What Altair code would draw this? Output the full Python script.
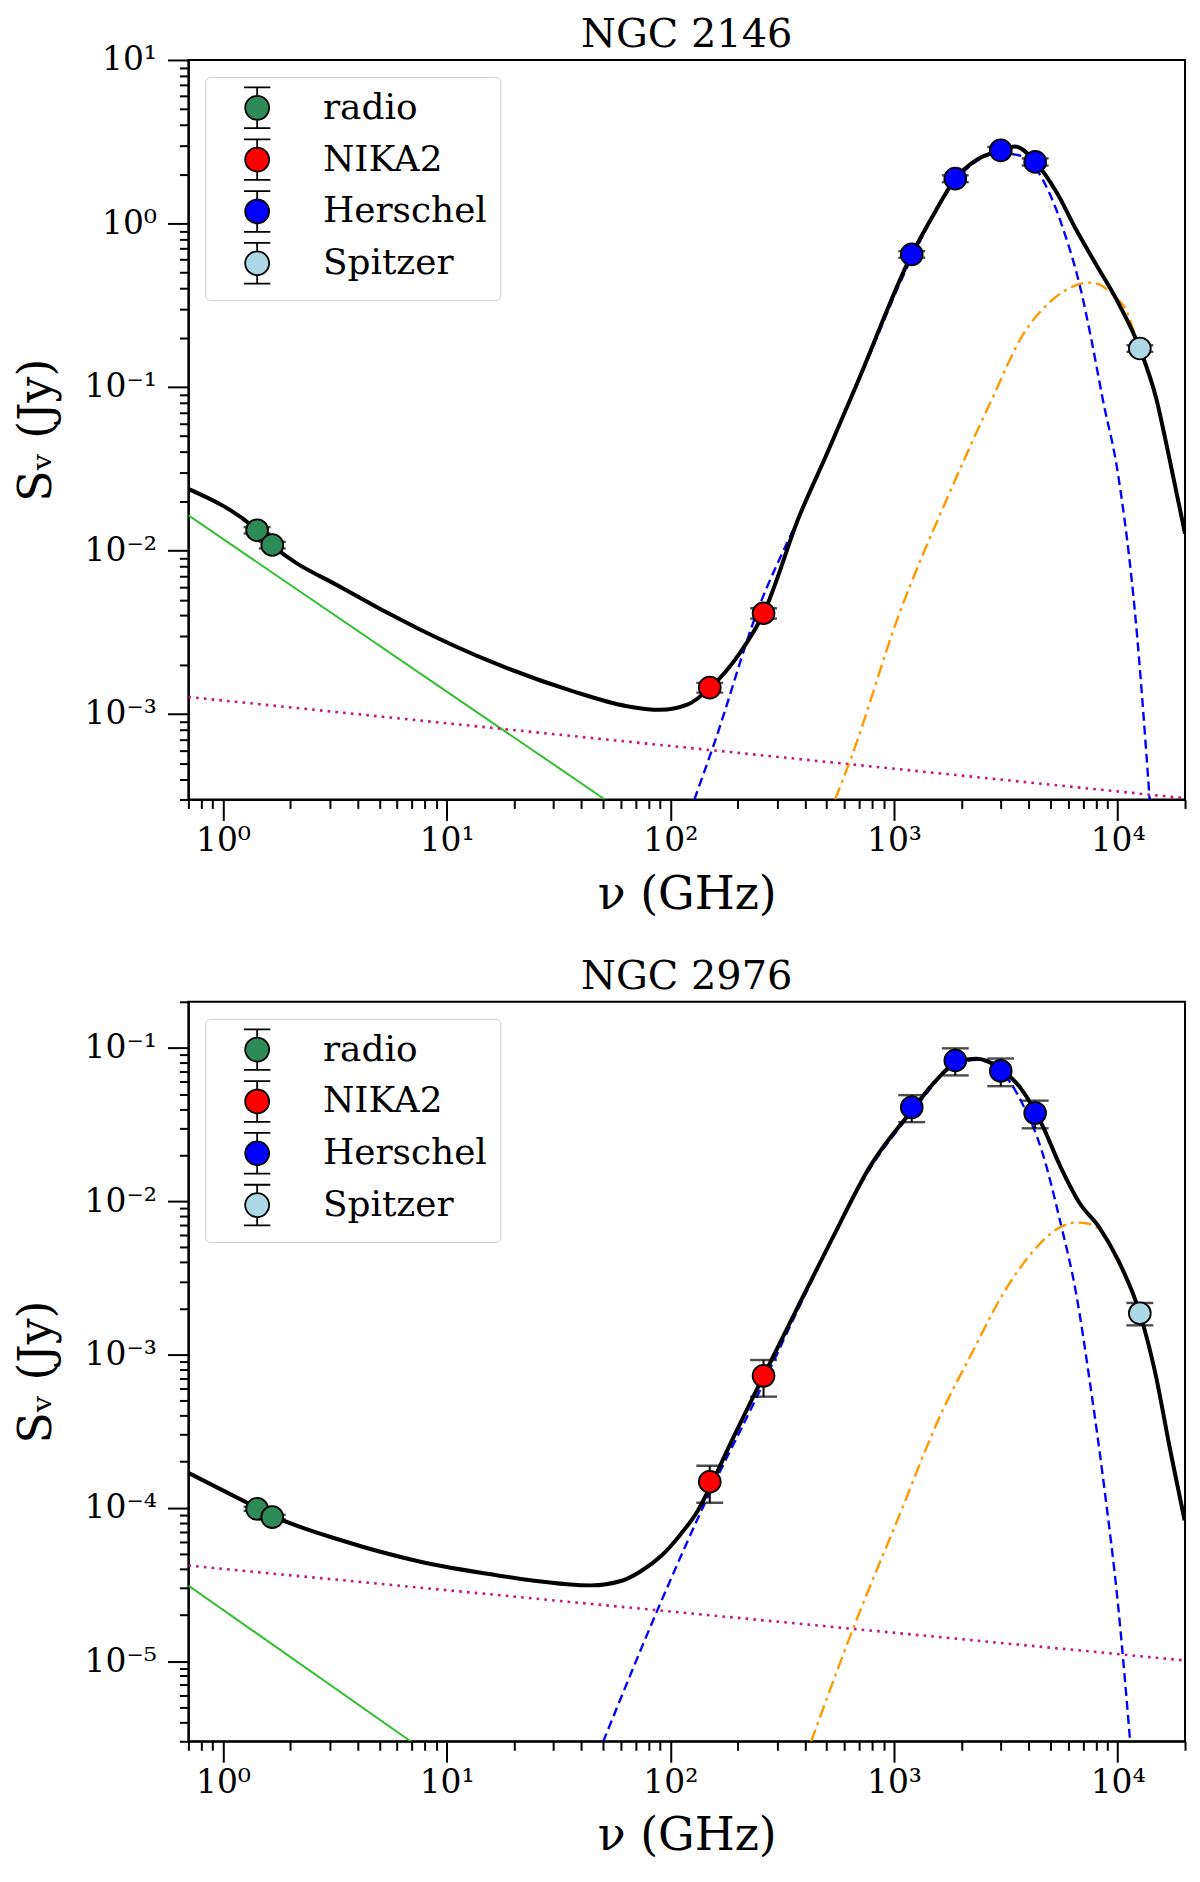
import altair as alt
import pandas as pd

FONT = "DejaVu Serif"

instruments = ["radio", "NIKA2", "Herschel", "Spitzer"]
inst_colors = ["#2e8b57", "#ff0000", "#0000ff", "#add8e6"]

# observed frequencies (GHz)
nu_radio = [1.42, 1.66]
nu_nika = [150, 261]
nu_herschel = [1200, 1879, 3000, 4276]
nu_spitzer = [12560]

# NGC 2146 photometry (Jy)
n2146_radio = [0.0133, 0.0108]
n2146_radio_err = [0.0006, 0.0005]
n2146_nika = [0.00145, 0.00413]
n2146_nika_err = [0.0001, 0.0003]
n2146_herschel = [0.647, 1.88, 2.80, 2.38]
n2146_herschel_err = [0.03, 0.09, 0.14, 0.12]
n2146_spitzer = [0.172]
n2146_spitzer_err = [0.008]

# NGC 2146 model components
n2146_total_nu = [0.70, 1.42, 1.66, 3.43, 7.55, 16.6, 36.5, 63.1, 90.2, 119, 151, 204, 261,
                  377, 504, 697, 1200, 1517, 1879, 2339, 3000, 3467, 4276, 5346, 6516,
                  7925, 10046, 12560, 14890, 16634, 20000]
n2146_total_s = [0.0238, 0.0133, 0.0108, 0.00587, 0.00330, 0.00203, 0.00138, 0.00112,
                 0.00106, 0.00114, 0.00145, 0.00235, 0.00413, 0.0162, 0.0397, 0.112, 0.647,
                 1.16, 1.88, 2.45, 2.80, 2.96, 2.38, 1.54, 0.918, 0.575, 0.328, 0.172,
                 0.0845, 0.0426, 0.0127]
n2146_cold_nu = [128, 158, 244, 377, 697, 1200, 1879, 3000, 3750, 4943, 5781, 6776, 7621,
                 8570, 10046, 12023, 13900]
n2146_cold_s = [3.0e-4, 6.76e-4, 4.20e-3, 0.0162, 0.110, 0.617, 1.82, 2.69, 2.58, 1.54,
                0.877, 0.415, 0.196, 0.0845, 0.0290, 3.81e-3, 3.0e-4]
n2146_warm_nu = [545, 647, 1035, 1778, 2742, 3750, 5140, 6516, 7328, 7925, 9638, 10864,
                 12560, 14890, 16634, 20000]
n2146_warm_s = [3.0e-4, 5.51e-4, 3.81e-3, 0.0228, 0.0845, 0.206, 0.344, 0.419, 0.435,
                0.431, 0.361, 0.299, 0.166, 0.0832, 0.0417, 0.0126]
n2146_sync_nu = [0.70, 51]
n2146_sync_s = [0.0164, 3.0e-4]
n2146_ff_nu = [0.70, 20000]
n2146_ff_s = [1.27e-3, 3.05e-4]

# NGC 2976 photometry (Jy)
n2976_radio = [9.85e-5, 8.7e-5]
n2976_radio_err = [3e-6, 3e-6]
n2976_nika = [1.48e-4, 7.26e-4]
n2976_nika_err = [4.0e-5, 1.95e-4]
n2976_herschel = [0.041, 0.0828, 0.0708, 0.0376]
n2976_herschel_err = [0.0082, 0.0166, 0.0145, 0.0077]
n2976_spitzer = [1.86e-3]
n2976_spitzer_err = [3.1e-4]

# NGC 2976 model components
n2976_total_nu = [0.70, 1.42, 1.66, 3.43, 7.55, 16.6, 23.8, 44.2, 60.1, 73.8, 90.6, 111,
                  132, 151, 180, 261, 391, 525, 778, 1202, 1517, 1879, 2339, 3000,
                  3750, 4571, 5559, 6776, 8241, 10046, 12560, 14622, 17219, 19907]
n2976_total_s = [1.69e-4, 1.0e-4, 8.9e-5, 6.10e-5, 4.47e-5, 3.64e-5, 3.37e-5, 3.12e-5,
                 3.33e-5, 3.86e-5, 4.83e-5, 6.71e-5, 9.46e-5, 1.38e-4, 2.39e-4,
                 7.26e-4, 2.38e-3, 5.57e-3, 0.0167, 0.0391, 0.0598, 0.0796, 0.0849,
                 0.0731, 0.0527, 0.0320, 0.0167, 9.66e-3, 6.81e-3, 4.13e-3, 1.86e-3,
                 7.94e-4, 2.33e-4, 8.30e-5]
n2976_cold_nu = [50.0, 90.4, 145, 244, 391, 778, 1202, 1879, 2339, 3000, 3750, 4571, 5559,
                 6516, 7516, 8690, 10046, 11376]
n2976_cold_s = [2.97e-6, 2.40e-5, 1.13e-4, 5.32e-4, 2.29e-3, 0.0162, 0.0380, 0.0776,
                0.0836, 0.0708, 0.0432, 0.0215, 7.16e-3, 2.51e-3, 6.55e-4, 1.39e-4,
                2.29e-5, 2.97e-6]
n2976_warm_nu = [425, 671, 1035, 1652, 2208, 3083, 4227, 5559, 6516, 7328, 8570, 10046,
                 12560, 14622, 17219, 20000]
n2976_warm_s = [2.97e-6, 1.77e-5, 8.30e-5, 4.34e-4, 9.95e-4, 2.51e-3, 4.80e-3, 6.81e-3,
                7.26e-3, 7.16e-3, 6.17e-3, 3.98e-3, 1.82e-3, 7.76e-4, 2.29e-4, 8.13e-5]
n2976_sync_nu = [0.70, 6.97]
n2976_sync_s = [3.11e-5, 2.97e-6]
n2976_ff_nu = [0.70, 20000]
n2976_ff_s = [4.2e-5, 1.01e-5]

# legend handle: circle with error bar and caps
ERRBAR_SYMBOL = ("M-1,0A1,1 0 1,1 1,0A1,1 0 1,1 -1,0Z"
                 "M0,-1L0,-1.7M-1.1,-1.7L1.1,-1.7M0,1L0,1.7M-1.1,1.7L1.1,1.7")

SUP = ("'10' + replace(replace(replace(replace(replace(replace(replace("
       "toString(round(log(datum.value)/LN10)),'-','⁻'),'0','⁰'),'1','¹'),"
       "'2','²'),'3','³'),'4','⁴'),'5','⁵')")
IS_MAJOR = "abs(log(datum.value)/LN10 - round(log(datum.value)/LN10)) < 1e-6"


def log_ticks(lo, hi):
    vals = []
    for e in range(-7, 6):
        for m in range(1, 10):
            v = m * 10.0 ** e
            if lo * 0.999 <= v <= hi * 1.001:
                vals.append(v)
    return vals


def points_table(s_lists, err_lists):
    rows = []
    for inst, nus, ss, es in zip(instruments,
                                 [nu_radio, nu_nika, nu_herschel, nu_spitzer],
                                 s_lists, err_lists):
        for n, s, e in zip(nus, ss, es):
            rows.append({"nu": n, "S": s, "lo": s - e, "hi": s + e, "inst": inst})
    return pd.DataFrame(rows)


def sed_panel(title, pts, total, cold, warm, sync, ff, ydom):
    xscale = alt.Scale(type="log", domain=[0.7, 20000], nice=False)
    yscale = alt.Scale(type="log", domain=ydom, nice=False)
    tick_size = {"condition": {"test": IS_MAJOR, "value": 21}, "value": 9}
    xaxis = alt.Axis(values=log_ticks(0.7, 20000), labelExpr=f"{IS_MAJOR} ? {SUP} : ''",
                     tickSize=tick_size, labelOverlap=False, labelFlush=False,
                     labelPadding=4, titlePadding=15)
    yaxis = alt.Axis(values=log_ticks(*ydom), labelExpr=f"{IS_MAJOR} ? {SUP} : ''",
                     tickSize=tick_size, labelOverlap=False, labelFlush=False,
                     labelPadding=11, titlePadding=24)
    x = alt.X("nu:Q", scale=xscale, axis=xaxis, title="ν (GHz)")

    def y(field):
        return alt.Y(f"{field}:Q", scale=yscale, axis=yaxis, title="Sᵥ (Jy)")

    def curve(nus, ss, **style):
        df = pd.DataFrame({"nu": nus, "S": ss})
        return alt.Chart(df).mark_line(clip=True, **style).encode(x=x, y=y("S"))

    layers = [
        curve(*sync, color="#2ec02e", strokeWidth=2),
        curve(*ff, color="#cc1177", strokeWidth=2.6, strokeDash=[2.6, 5.2]),
        curve(*cold, color="#0000ff", strokeWidth=2.4, strokeDash=[9, 5], interpolate="monotone"),
        curve(*warm, color="#ff9900", strokeWidth=2.4, strokeDash=[13, 5, 3, 5], interpolate="monotone"),
        curve(*total, color="black", strokeWidth=4, interpolate="monotone"),
        alt.Chart(pts).mark_rule(color="black", strokeWidth=2).encode(x=x, y=y("lo"), y2="hi:Q"),
        alt.Chart(pts).mark_tick(orient="horizontal", size=27, thickness=2.4, color="black")
        .encode(x=x, y=y("lo")),
        alt.Chart(pts).mark_tick(orient="horizontal", size=27, thickness=2.4, color="black")
        .encode(x=x, y=y("hi")),
        alt.Chart(pts).mark_point(shape="circle", filled=True, size=480, stroke="black",
                                  strokeWidth=1.8, opacity=1)
        .encode(
            x=x,
            y=y("S"),
            fill=alt.Fill("inst:N", scale=alt.Scale(domain=instruments, range=inst_colors),
                          legend=alt.Legend(
                              title=None, orient="top-left", offset=17, padding=13,
                              strokeColor="#cccccc", cornerRadius=5, fillColor="white",
                              labelFont=FONT, labelFontSize=36, labelColor="black",
                              rowPadding=4, symbolSize=576, symbolType=ERRBAR_SYMBOL,
                              symbolStrokeColor="black", symbolStrokeWidth=1.8,
                              symbolOffset=21, labelOffset=48, labelLimit=0)),
        ),
    ]
    return alt.layer(*layers).properties(width=1000, height=742, title=title)


top = sed_panel(
    "NGC 2146",
    points_table([n2146_radio, n2146_nika, n2146_herschel, n2146_spitzer],
                 [n2146_radio_err, n2146_nika_err, n2146_herschel_err, n2146_spitzer_err]),
    (n2146_total_nu, n2146_total_s), (n2146_cold_nu, n2146_cold_s),
    (n2146_warm_nu, n2146_warm_s), (n2146_sync_nu, n2146_sync_s), (n2146_ff_nu, n2146_ff_s),
    [3e-4, 10],
)
bottom = sed_panel(
    "NGC 2976",
    points_table([n2976_radio, n2976_nika, n2976_herschel, n2976_spitzer],
                 [n2976_radio_err, n2976_nika_err, n2976_herschel_err, n2976_spitzer_err]),
    (n2976_total_nu, n2976_total_s), (n2976_cold_nu, n2976_cold_s),
    (n2976_warm_nu, n2976_warm_s), (n2976_sync_nu, n2976_sync_s), (n2976_ff_nu, n2976_ff_s),
    [3e-6, 0.2],
)

chart = (
    alt.vconcat(top, bottom, spacing=38)
    .resolve_scale(y="independent", fill="independent")
    .properties(padding={"left": 4, "top": 3, "right": 5, "bottom": 5})
    .configure_view(stroke="black", strokeWidth=2)
    .configure_axis(domainColor="black", domainWidth=2, tickColor="black", tickWidth=2,
                    labelFont=FONT, labelFontSize=33, labelColor="black",
                    titleFont=FONT, titleFontSize=46, titleFontWeight="normal",
                    titleColor="black", grid=False)
    .configure_title(font=FONT, fontSize=40, fontWeight="normal", color="black",
                     offset=-11, frame="group")
)

chart.save("out.html", embed_options={"renderer": "svg", "actions": False})
